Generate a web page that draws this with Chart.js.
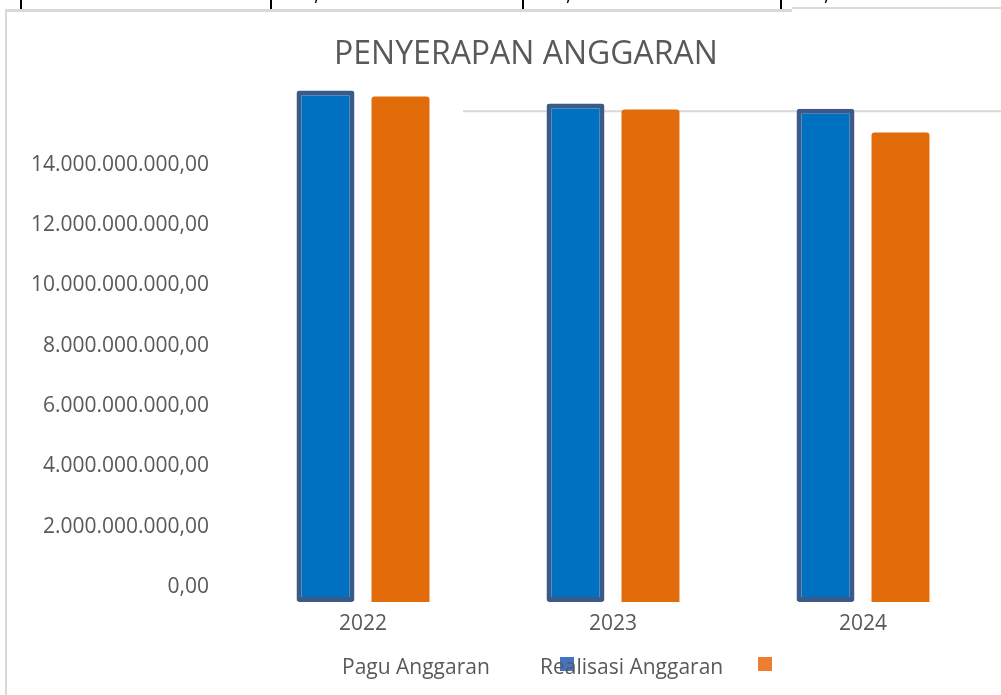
<!DOCTYPE html>
<html>
<head>
<meta charset="utf-8">
<script src="https://cdn.jsdelivr.net/npm/chart.js@4"></script>
<style>
  html, body { margin: 0; padding: 0; background: #fff; }
  #wrap { position: relative; width: 1001px; height: 695px; overflow: hidden; font-family: "Open Sans", sans-serif; }
  #chart { position: absolute; left: 0; top: 0; }
  #title { position: absolute; left: 526px; top: 30px; transform: translateX(-50%); font-size: 32px; color: #595959; white-space: nowrap; }
  .frame-left { position: absolute; left: 5px; top: 10px; width: 2px; height: 690px; background: #d9d9d9; }
  .frame-top { position: absolute; left: 5px; top: 9px; width: 787px; height: 3px; background: #d9d9d9; }
  .frame-top2 { position: absolute; left: 792px; top: 7px; width: 209px; height: 2px; background: #d9d9d9; }
  .cell-line { position: absolute; top: 0; width: 2px; height: 9px; background: #000; }
  .cell-text { position: absolute; top: -22px; font-size: 21px; color: #000; white-space: nowrap; }
  .leg-text { position: absolute; top: 652px; font-size: 21px; color: #595959; white-space: nowrap; }
  .leg-box { position: absolute; top: 657px; width: 14px; height: 14px; }
</style>
</head>
<body>
<div id="wrap">
  <canvas id="chart" width="1001" height="695"></canvas>
  <div class="frame-left"></div>
  <div class="frame-top"></div>
  <div class="frame-top2"></div>
  <div id="title">PENYERAPAN ANGGARAN</div>
  <div id="table-row"></div>
  <div id="legend"></div>
</div>
<script>
const years = ['2022', '2023', '2024'];
const paguAnggaran = [16950000000, 16520000000, 16350000000];
const realisasiAnggaran = [16750000000, 16320000000, 15560000000];
const seriesNames = ['Pagu Anggaran', 'Realisasi Anggaran'];
const yTickValues = [0, 2000000000, 4000000000, 6000000000, 8000000000, 10000000000, 12000000000, 14000000000];
const rowLabel = 'Persentase';
const rowValues = ['98,82%', '98,79%', '95,17%'];

// cut-off table row above the chart
const rowEl = document.getElementById('table-row');
const cellX = [20, 270, 522, 780];
const cellTexts = [rowLabel].concat(rowValues);
cellX.forEach((x, i) => {
    const line = document.createElement('div');
    line.className = 'cell-line';
    line.style.left = x + 'px';
    rowEl.appendChild(line);
    const t = document.createElement('div');
    t.className = 'cell-text';
    t.style.left = (x + 20) + 'px';
    t.textContent = cellTexts[i];
    rowEl.appendChild(t);
});

// legend (text and swatches sit apart, as in the source picture)
const legendEl = document.getElementById('legend');
const legendTextX = [342, 540];
const legendBoxX = [560, 758];
const legendColors = ['#4472c4', '#ed7d31'];
seriesNames.forEach((name, i) => {
    const t = document.createElement('div');
    t.className = 'leg-text';
    t.style.left = legendTextX[i] + 'px';
    t.textContent = name;
    legendEl.appendChild(t);
    const b = document.createElement('div');
    b.className = 'leg-box';
    b.style.left = legendBoxX[i] + 'px';
    b.style.background = legendColors[i];
    legendEl.appendChild(b);
});

function formatRupiah(v) {
    const s = Math.round(v).toString().replace(/\B(?=(\d{3})+(?!\d))/g, '.');
    return s + ',00';
}

// the one gridline that shows, starting past the first group
const partialGrid = {
    id: 'partialGrid',
    beforeDatasetsDraw(chart) {
        const y = chart.scales.y.getPixelForValue(16000000000) - 8;
        const x0 = chart.scales.x.getPixelForValue(0.4);
        const ctx = chart.ctx;
        ctx.save();
        ctx.strokeStyle = '#d9d9d9';
        ctx.lineWidth = 2;
        ctx.beginPath();
        ctx.moveTo(x0, y);
        ctx.lineTo(chart.width, y);
        ctx.stroke();
        ctx.restore();
    }
};

new Chart(document.getElementById('chart'), {
    type: 'bar',
    data: {
        labels: years,
        datasets: [
            {
                label: seriesNames[0],
                data: paguAnggaran,
                backgroundColor: '#0070c0',
                borderColor: '#3b5a87',
                borderWidth: 5,
                borderSkipped: false,
                borderRadius: 3
            },
            {
                label: seriesNames[1],
                data: realisasiAnggaran,
                backgroundColor: '#e36c0a',
                borderWidth: 0,
                borderRadius: 3
            }
        ]
    },
    options: {
        responsive: false,
        animation: false,
        layout: { padding: { left: 0, right: 13, top: 83, bottom: 0 } },
        datasets: {
            bar: { categoryPercentage: 0.6, barPercentage: 0.773 }
        },
        plugins: {
            legend: { display: false },
            tooltip: { enabled: false },
            title: { display: false }
        },
        scales: {
            x: {
                grid: { display: false },
                border: { display: false },
                ticks: {
                    color: '#595959',
                    font: { family: 'Open Sans', size: 21 },
                    padding: 1
                },
                afterFit(scale) { scale.height = 93; }
            },
            y: {
                min: 0,
                max: 17200000000,
                grid: { display: false },
                border: { display: false },
                afterBuildTicks(scale) {
                    scale.ticks = yTickValues.map(v => ({ value: v }));
                },
                ticks: {
                    color: '#595959',
                    font: { family: 'Open Sans', size: 21 },
                    padding: 21,
                    labelOffset: -15,
                    callback: (v) => formatRupiah(v)
                },
                afterFit(scale) { scale.width = 238; }
            }
        }
    },
    plugins: [partialGrid]
});
</script>
</body>
</html>
